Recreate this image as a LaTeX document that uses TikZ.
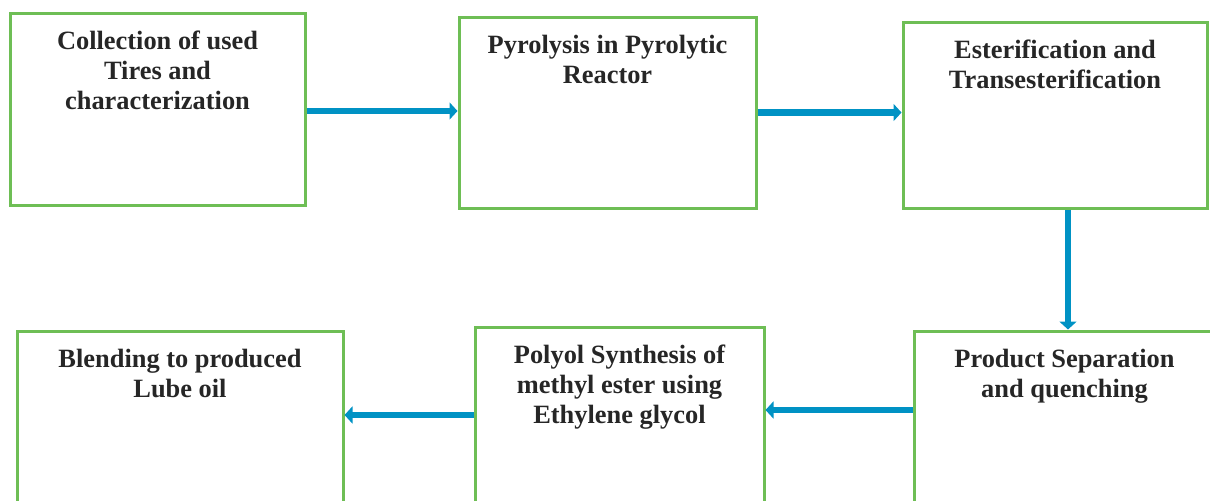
\documentclass[tikz,border=0pt]{standalone}
\usepackage{fontspec}
\setmainfont{Liberation Serif}
\usetikzlibrary{positioning,arrows.meta,calc}
\definecolor{boxgreen}{RGB}{110,190,85}
\definecolor{flowblue}{RGB}{0,146,196}
\tikzset{
  >=Triangle,
}

\begin{document}
\begin{tikzpicture}[
  x=0.5pt, y=-0.5pt,
  stage/.style={draw=boxgreen, line width=1.5pt, inner sep=0pt},
  caption/.style={align=center, font=\bfseries\fontsize{13.2}{15}\selectfont, inner sep=0pt, text=black!85},
  flow/.style={->, draw=flowblue, line width=3.4pt, >={Triangle[length=4pt, width=8.5pt]}},
]

\useasboundingbox (0,0) rectangle (1210,500);
\clip (0,0) rectangle (1210,500);

\node[stage, minimum width=295*0.5pt, minimum height=192*0.5pt] (b1) at (157.5,109) {};
\node[stage, minimum width=297*0.5pt, minimum height=191*0.5pt] (b2) at (607.5,112.5) {};
\node[stage, minimum width=304*0.5pt, minimum height=186*0.5pt] (b3) at (1055,115) {};
\node[stage, minimum width=301*0.5pt, minimum height=179*0.5pt] (b4) at (1064.5,420.5) {};
\node[stage, minimum width=289*0.5pt, minimum height=183*0.5pt] (b5) at (619.5,418.5) {};
\node[stage, minimum width=326*0.5pt, minimum height=179*0.5pt] (b6) at (180,420.5) {};

\node[caption, below=9.5pt of b1.north] (t1) {Collection of used\\Tires and\\characterization};
\node[caption, below=9.5pt of b2.north] (t2) {Pyrolysis in Pyrolytic\\Reactor};
\node[caption, below=9.5pt of b3.north] (t3) {Esterification and\\Transesterification};
\node[caption, below=9.5pt of b4.north] (t4) {Product Separation\\and quenching};
\node[caption, below=9.5pt of b5.north] (t5) {Polyol Synthesis of\\methyl ester using\\Ethylene glycol};
\node[caption, below=9.5pt of b6.north] (t6) {Blending to produced\\Lube oil};

\draw[flow] ([yshift=-1pt]b1.east) -- ([yshift=-1pt]b1.east -| b2.west);
\draw[flow] (b2.east) -- (b2.east -| b3.west);
\draw[flow] ([xshift=6.5pt]b3.south) -- ([xshift=6.5pt]b3.south |- b4.north);
\draw[flow] ([yshift=5.25pt]b4.west) -- ([yshift=5.25pt]b4.west -| b5.east);
\draw[flow] ([yshift=1.75pt]b5.west) -- ([yshift=1.75pt]b5.west -| b6.east);

\end{tikzpicture}
\end{document}
